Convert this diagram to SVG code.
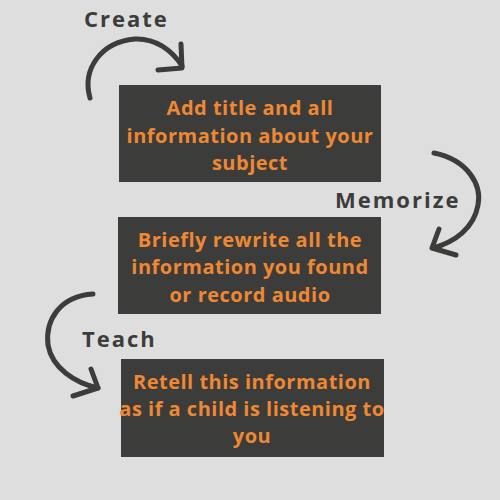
<svg xmlns="http://www.w3.org/2000/svg" width="500" height="500" viewBox="0 0 500 500">
<style>
.bg{fill:#DEDEDE}
.box{fill:#3C3C3B}
.bt{font-family:"Open Sans","Liberation Sans",sans-serif;font-weight:bold;font-size:20px;letter-spacing:0.5px;fill:#EE8833;text-anchor:middle}
.lb{font-family:"Open Sans","Liberation Sans",sans-serif;font-weight:bold;font-size:22px;letter-spacing:2px;fill:#3C3C3B}
.arr{fill:none;stroke:#3C3C3B;stroke-width:5;stroke-linecap:round;stroke-linejoin:round}
</style>
<rect class="bg" x="0" y="0" width="500" height="500"/>
<g id="node1">
<rect class="box" x="119" y="85" width="262" height="97"/>
<text class="bt"><tspan x="250" y="115">Add title and all</tspan><tspan x="250" y="143">information about your</tspan><tspan x="250" y="170">subject</tspan></text>
</g>
<g id="node2">
<rect class="box" x="118" y="217" width="263" height="97"/>
<text class="bt"><tspan x="250" y="247">Briefly rewrite all the</tspan><tspan x="250" y="274">information you found</tspan><tspan x="250" y="302">or record audio</tspan></text>
</g>
<g id="node3">
<rect class="box" x="121" y="359" width="263" height="98"/>
<text class="bt"><tspan x="252" y="389">Retell this information</tspan><tspan x="252" y="416">as if a child is listening to</tspan><tspan x="252" y="443">you</tspan></text>
</g>
<g id="label-create"><text class="lb" x="84" y="27">Create</text></g>
<g id="label-memorize"><text class="lb" x="335" y="208">Memorize</text></g>
<g id="label-teach"><text class="lb" x="82" y="347">Teach</text></g>
<g id="connectors">
<path class="arr" d="M90,98 C82,70 100,42 135,39 C155,38 172,50 182,66"/>
<path class="arr" d="M181,44 L182,68 L158,70"/>
<path class="arr" d="M434,153 C468,160 482,185 478,205 C474,228 455,242 433,248"/>
<path class="arr" d="M439,229 L432,248 L456,255"/>
<path class="arr" d="M93,294 C60,296 45,320 48,345 C52,368 75,383 98,388"/>
<path class="arr" d="M91,369 L98,388 L73,396"/>
</g>
</svg>
